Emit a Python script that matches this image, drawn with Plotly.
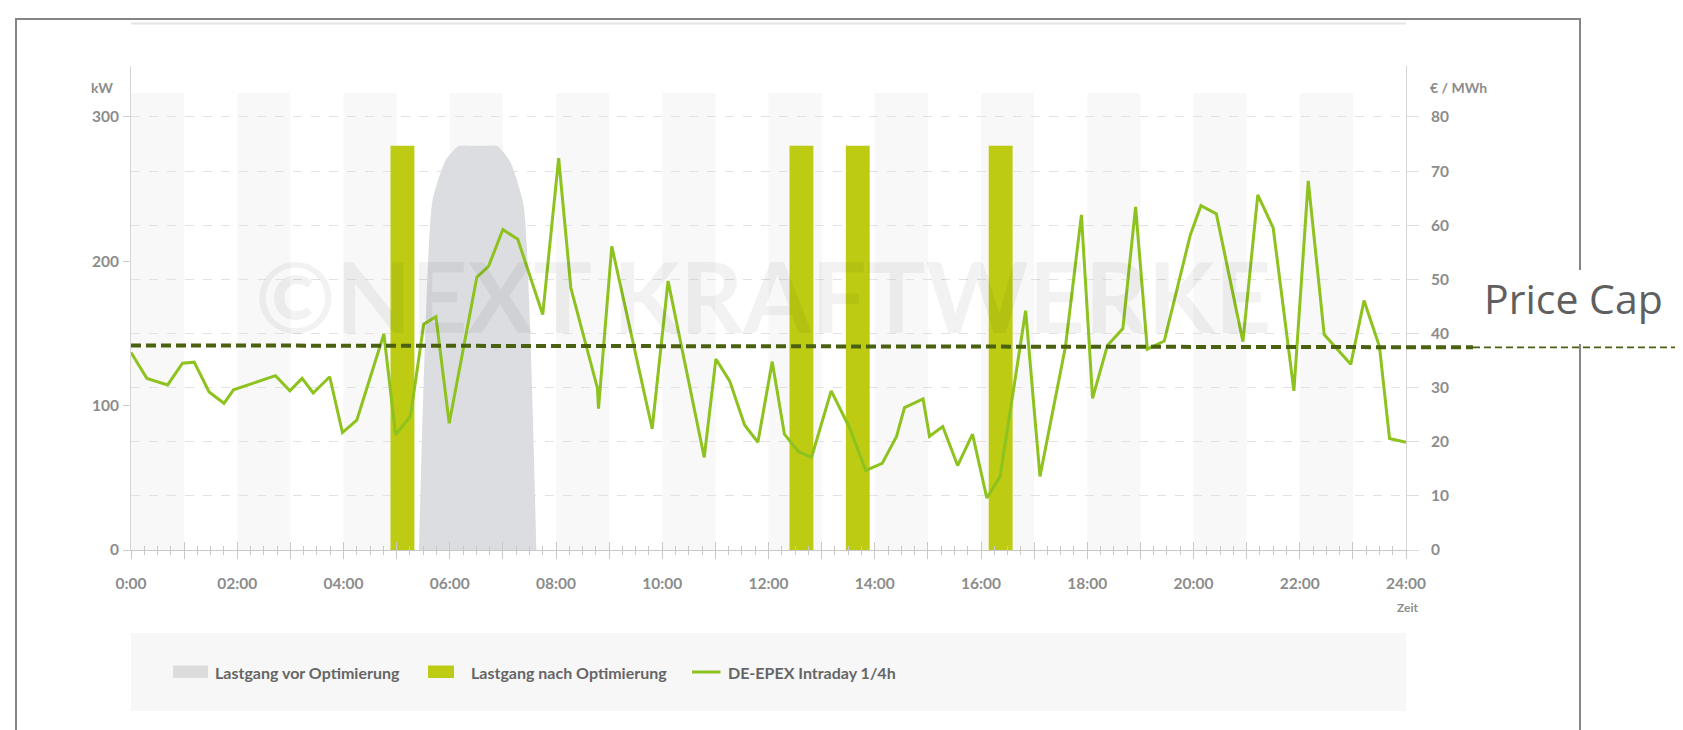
import plotly.graph_objects as go

# ---------------- data ----------------
price_time_h = [0.00, 0.30, 0.69, 0.97, 1.19, 1.47, 1.75, 1.93, 2.72, 2.99, 3.22, 3.43, 3.74, 3.98,
                4.25, 4.76, 4.98, 5.26, 5.51, 5.74, 5.99, 6.51, 6.73, 7.00, 7.28, 7.75, 8.05, 8.28,
                8.78, 8.80, 9.05, 9.81, 10.11, 10.79, 11.01, 11.27, 11.55, 11.80, 12.07, 12.30,
                12.56, 12.81, 13.18, 13.53, 13.83, 14.14, 14.41, 14.56, 14.91, 15.03, 15.28, 15.56,
                15.84, 16.11, 16.36, 16.84, 17.11, 17.59, 17.89, 18.10, 18.38, 18.67, 18.91, 19.13,
                19.45, 19.94, 20.14, 20.43, 20.93, 21.21, 21.50, 21.89, 22.16, 22.46, 22.96, 23.21,
                23.50, 23.69, 24.00]
price_eur_mwh = [36.5, 31.7, 30.5, 34.5, 34.7, 29.2, 27.1, 29.6, 32.2, 29.4, 31.7, 29.0, 32.0, 21.7,
                 24.0, 39.9, 21.3, 24.7, 41.7, 43.1, 23.4, 50.4, 52.4, 59.2, 57.4, 43.5, 72.4, 48.4,
                 29.9, 26.1, 56.1, 22.4, 49.7, 17.1, 35.3, 31.2, 23.1, 19.9, 34.8, 21.4,
                 18.2, 17.1, 29.4, 22.5, 14.7, 16.0, 21.0, 26.3, 27.9, 21.0, 22.8, 15.6,
                 21.4, 9.6, 13.6, 44.2, 13.6, 37.6, 61.9, 28.0, 37.8, 40.9, 63.4, 37.1,
                 38.6, 58.2, 63.6, 62.1, 38.5, 65.6, 59.5, 29.4, 68.2, 39.8, 34.3, 46.1,
                 37.6, 20.6, 19.9]

before_time_h = [5.42, 5.67, 5.92, 6.17, 6.42, 6.67, 6.89, 7.14, 7.39, 7.63]
before_kw = [0, 241, 270, 280, 280, 280, 280, 269, 239, 0]

after_time_h = [5.11, 12.62, 13.68, 16.37]
after_kw = [280, 280, 280, 280]
after_width_h = 0.45

price_cap_eur = [37.8, 37.45]          # dashed cap line, left end / right end as drawn
price_cap_label = "Price Cap"

series_names = ["Lastgang vor Optimierung", "Lastgang nach Optimierung", "DE-EPEX Intraday 1/4h"]

hour_ticks = list(range(25))
hour_labels = ["0:00" if h == 0 else (f"{h:02d}:00" if h % 2 == 0 else "") for h in hour_ticks]
kw_ticks = [0, 100, 200, 300]
eur_ticks = [0, 10, 20, 30, 40, 50, 60, 70, 80]
band_hours = list(range(0, 24, 2))
band_top_kw = 316.6
watermark = "©NEXT KRAFTWERKE"

# ---------------- styling / geometry ----------------
FW, FH = 1683, 730
L, R, T, B = 123, 1398, 58, 542
W, H = R - L, B - T
KW_MAX = 335.3
EUR_MAX = KW_MAX / 3.75

def px(x):
    return (x - L) / W

def py(y):
    return (B - y) / H

C_BAR = "#bdcc12"
C_LINE = "#8dc21f"
C_AREA = "#dcdde0"
C_CAP = "#4a6110"
C_TXT = "#8c8c8c"
FONT = "Lato"

fig = go.Figure()

fig.add_trace(go.Scatter(
    x=before_time_h, y=before_kw, mode="lines", fill="tozeroy",
    fillcolor=C_AREA, line=dict(width=0, color=C_AREA, shape="spline", smoothing=0.5),
    name=series_names[0], showlegend=False, hoverinfo="skip", yaxis="y"))

fig.add_trace(go.Bar(
    x=after_time_h, y=after_kw, width=after_width_h, marker=dict(color=C_BAR, line=dict(width=0)),
    name=series_names[1], showlegend=False, hoverinfo="skip", yaxis="y"))

fig.add_trace(go.Scatter(
    x=price_time_h, y=price_eur_mwh, mode="lines", line=dict(color=C_LINE, width=3),
    name=series_names[2], showlegend=False, hoverinfo="skip", yaxis="y2"))

# invisible trace to activate the overlaid tick axis (inside ticks)
fig.add_trace(go.Scatter(x=[0], y=[0], mode="markers", marker=dict(opacity=0),
                         xaxis="x3", yaxis="y", showlegend=False, hoverinfo="skip"))

shapes = []
# alternating hour bands
for h in band_hours:
    shapes.append(dict(type="rect", xref="x", yref="y", x0=h, x1=h + 1, y0=0, y1=band_top_kw,
                       fillcolor="#f8f8f8", line=dict(width=0), layer="below"))
# outer frame
shapes.append(dict(type="rect", xref="paper", yref="paper", x0=px(8), x1=px(1572), y0=py(740), y1=py(11),
                   line=dict(color="#858585", width=2), fillcolor="rgba(0,0,0,0)", layer="above"))
# light top rule
shapes.append(dict(type="line", xref="paper", yref="paper", x0=px(123), x1=px(1398), y0=py(15.5), y1=py(15.5),
                   line=dict(color="#e4e4e4", width=2)))
# white box behind "Price Cap" label
shapes.append(dict(type="rect", xref="paper", yref="paper", x0=px(1480), x1=px(1683), y0=py(336), y1=py(262),
                   fillcolor="white", line=dict(width=0), layer="above"))
# legend background
shapes.append(dict(type="rect", xref="paper", yref="paper", x0=px(123), x1=px(1398), y0=py(703), y1=py(625),
                   fillcolor="#f7f7f7", line=dict(width=0), layer="below"))
# legend swatches
shapes.append(dict(type="rect", xref="paper", yref="paper", x0=px(165), x1=px(200), y0=py(670), y1=py(657.5),
                   fillcolor="#dcdcdc", line=dict(width=0)))
shapes.append(dict(type="rect", xref="paper", yref="paper", x0=px(420), x1=px(446), y0=py(670), y1=py(657.5),
                   fillcolor=C_BAR, line=dict(width=0)))
shapes.append(dict(type="line", xref="paper", yref="paper", x0=px(684), x1=px(712.5), y0=py(664), y1=py(664),
                   line=dict(color=C_LINE, width=3)))
# price cap: thick dashed part and thin extension
cap_x_end = px(1465)
shapes.append(dict(type="line", xref="paper", yref="paper", x0=0, x1=cap_x_end,
                   y0=price_cap_eur[0] / EUR_MAX, y1=price_cap_eur[1] / EUR_MAX,
                   line=dict(color=C_CAP, width=4, dash="10px,5px"), layer="above"))
shapes.append(dict(type="line", xref="paper", yref="paper", x0=cap_x_end, x1=px(1683),
                   y0=price_cap_eur[1] / EUR_MAX, y1=price_cap_eur[1] / EUR_MAX,
                   line=dict(color=C_CAP, width=1.8, dash="7px,4px"), layer="above"))

annotations = [
    dict(text="<b>kW</b>", xref="paper", yref="paper", x=px(107), y=py(79), xanchor="right", yanchor="middle",
         showarrow=False, font=dict(family=FONT, size=14, color=C_TXT)),
    dict(text="<b>€ / MWh</b>", xref="paper", yref="paper", x=px(1420), y=py(79), xanchor="left",
         yanchor="middle", showarrow=False, font=dict(family=FONT, size=14, color=C_TXT)),
    dict(text="<b>Zeit</b>", xref="paper", yref="paper", x=px(1400), y=py(599), xanchor="center",
         yanchor="middle", showarrow=False, font=dict(family=FONT, size=12, color=C_TXT)),
    dict(text=f"<b>{watermark}</b>", xref="x", yref="y", x=11.9, y=177, xanchor="center", yanchor="middle",
         showarrow=False, font=dict(family=FONT, size=98, color="rgba(0,0,0,0.05)")),
    dict(text=price_cap_label, xref="paper", yref="paper", x=px(1474), y=py(290), xanchor="left",
         yanchor="middle", showarrow=False, font=dict(family="Open Sans", size=41, color="#5f5f5f")),
]
for name, xl in zip(series_names, [205, 460.5, 718]):
    annotations.append(dict(text=f"<b>{name}</b>", xref="paper", yref="paper", x=px(xl), y=py(664),
                            xanchor="left", yanchor="middle", showarrow=False,
                            font=dict(family=FONT, size=16, color="#666666")))

tick_font = dict(family=FONT, size=15.5, color=C_TXT, weight="bold")

fig.update_layout(
    width=FW, height=FH,
    margin=dict(l=L, r=FW - R, t=T, b=FH - B, pad=0),
    paper_bgcolor="white", plot_bgcolor="white",
    showlegend=False, hovermode=False, barmode="overlay",
    font=dict(family=FONT, color=C_TXT),
    shapes=shapes, annotations=annotations,
    xaxis=dict(range=[0, 24], tickmode="array", tickvals=hour_ticks, ticktext=hour_labels,
               ticks="outside", ticklen=8, tickcolor="#c8c8c8", tickwidth=1,
               minor=dict(tickmode="linear", tick0=0, dtick=0.25, ticks="outside", ticklen=4,
                          tickcolor="#c8c8c8", showgrid=False),
               showline=True, linecolor="#c8c8c8", linewidth=1, showgrid=False, zeroline=False,
               tickfont=tick_font, ticklabelstandoff=11),
    xaxis3=dict(range=[0, 24], overlaying="x", anchor="y", side="bottom", tickmode="array",
                tickvals=hour_ticks, ticks="inside", ticklen=8, tickcolor="#c8c8c8",
                minor=dict(tickmode="linear", tick0=0, dtick=0.25, ticks="inside", ticklen=4,
                           tickcolor="#c8c8c8", showgrid=False),
                showticklabels=False, showline=False, showgrid=False, zeroline=False),
    yaxis=dict(range=[0, KW_MAX], tickmode="array", tickvals=kw_ticks, ticks="outside", ticklen=7,
               tickcolor="#cfcfcf", showline=True, linecolor="#d5d5d5", linewidth=1, showgrid=False,
               zeroline=False, tickfont=tick_font, ticklabelstandoff=1),
    yaxis2=dict(range=[0, EUR_MAX], overlaying="y", side="right", anchor="x", tickmode="array",
                tickvals=eur_ticks, ticks="outside", ticklen=12, tickcolor="#dddddd",
                showline=True, linecolor="#d5d5d5", linewidth=1,
                showgrid=True, gridcolor="#e2e2e2", griddash="dash", gridwidth=1, zeroline=False,
                tickfont=tick_font, ticklabelstandoff=9),
)

fig.write_html("out.html")
